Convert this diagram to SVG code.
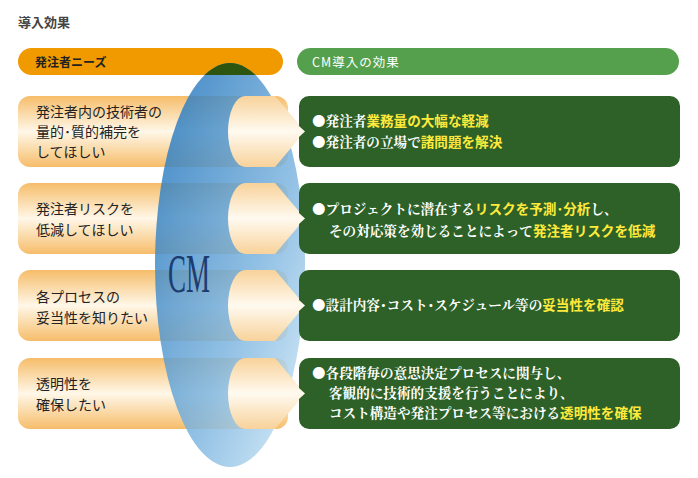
<svg xmlns="http://www.w3.org/2000/svg" width="698" height="478" viewBox="0 0 698 478">
<defs>
<linearGradient id="lg" x1="0" y1="0" x2="0" y2="1"><stop offset="0" stop-color="#f6bd6a"/><stop offset="0.5" stop-color="#fff7e8"/><stop offset="1" stop-color="#f6bd6a"/></linearGradient>
<linearGradient id="cap" x1="0" y1="0" x2="0" y2="1"><stop offset="0" stop-color="#f8d29a"/><stop offset="0.5" stop-color="#fffaf0"/><stop offset="1" stop-color="#f8d29a"/></linearGradient>
<linearGradient id="bl" x1="0" y1="0" x2="1" y2="1"><stop offset="0" stop-color="#1a6fb8"/><stop offset="0.6" stop-color="#7fb6e0"/><stop offset="1" stop-color="#d5ecf8"/></linearGradient>
<clipPath id="hc"><rect x="18" y="48" width="265" height="27" rx="13.5"/></clipPath>
<style>
.t{font-family:"Noto Sans CJK JP","Liberation Sans",sans-serif;font-size:14px;fill:#222}
.w{font-family:"Noto Serif CJK JP","Noto Sans CJK JP",serif;font-size:13.6px;fill:#fff;font-weight:bold}
.y{fill:#ffea3c;font-family:"Noto Sans CJK JP",sans-serif;font-weight:bold}
.g{fill:#2d6127}
</style>
</defs>
<text x="18" y="27" class="t" style="font-size:13px;font-weight:bold;fill:#444">導入効果</text>
<rect x="18" y="48" width="265" height="27" rx="13.5" fill="#f09a00"/>
<text x="35" y="67" class="t" style="font-size:12px;font-weight:bold">発注者ニーズ</text>
<rect x="297" y="48" width="382" height="27" rx="13.5" fill="#55a04c"/>
<text x="312" y="67" class="t" style="font-size:12.5px;fill:#fff;letter-spacing:1px">CM導入の効果</text>
<g id="left">
<rect x="18" y="96" width="270" height="71" rx="12" fill="url(#lg)"/>
<rect x="18" y="183" width="270" height="71" rx="12" fill="url(#lg)"/>
<rect x="18" y="270" width="270" height="71" rx="12" fill="url(#lg)"/>
<rect x="18" y="358" width="270" height="71" rx="12" fill="url(#lg)"/>
</g>
<ellipse id="cm" cx="230" cy="265" rx="75" ry="202" fill="url(#bl)" opacity="0.85"/>
<ellipse cx="230" cy="265" rx="75" ry="202" fill="#2d5510" clip-path="url(#hc)"/>
<text x="168" y="292" style="font-family:'Liberation Serif',serif;font-size:54px;fill:#1d3c70" transform="translate(168 0) scale(0.5 1) translate(-168 0)">CM</text>
<g id="caps">
<path d="M245,96 L275,96 L305,131.5 L275,167 L245,167 A17,35.5 0 0 1 245,96 Z" fill="url(#cap)"/>
<path d="M245,183 L275,183 L305,218.5 L275,254 L245,254 A17,35.5 0 0 1 245,183 Z" fill="url(#cap)"/>
<path d="M245,270 L275,270 L305,305.5 L275,341 L245,341 A17,35.5 0 0 1 245,270 Z" fill="url(#cap)"/>
<path d="M245,358 L275,358 L305,393.5 L275,429 L245,429 A17,35.5 0 0 1 245,358 Z" fill="url(#cap)"/>
</g>
<g id="right">
<path class="g" d="M309,96 H670 A10,10 0 0 1 680,106 V157 A10,10 0 0 1 670,167 H309 A10,10 0 0 1 299,157 V137 L305,131.5 L299,126 V106 A10,10 0 0 1 309,96 Z"/>
<path class="g" d="M309,183 H670 A10,10 0 0 1 680,193 V244 A10,10 0 0 1 670,254 H309 A10,10 0 0 1 299,244 V224 L305,218.5 L299,213 V193 A10,10 0 0 1 309,183 Z"/>
<path class="g" d="M309,270 H670 A10,10 0 0 1 680,280 V331 A10,10 0 0 1 670,341 H309 A10,10 0 0 1 299,331 V311 L305,305.5 L299,300 V280 A10,10 0 0 1 309,270 Z"/>
<path class="g" d="M309,358 H670 A10,10 0 0 1 680,368 V419 A10,10 0 0 1 670,429 H309 A10,10 0 0 1 299,419 V399 L305,393.5 L299,388 V368 A10,10 0 0 1 309,358 Z"/>
</g>
<g id="ltext" class="t">
<text x="36" y="117">発注者内の技術者の</text>
<text x="36" y="137">量的･質的補完を</text>
<text x="36" y="157">してほしい</text>
<text x="36" y="214">発注者リスクを</text>
<text x="36" y="235">低減してほしい</text>
<text x="36" y="302">各プロセスの</text>
<text x="36" y="323">妥当性を知りたい</text>
<text x="36" y="389">透明性を</text>
<text x="36" y="410">確保したい</text>
</g>
<g id="rtext" class="w">
<text x="312" y="126">●発注者<tspan class="y">業務量の大幅な軽減</tspan></text>
<text x="312" y="147">●発注者の立場で<tspan class="y">諸問題を解決</tspan></text>
<text x="312" y="214">●プロジェクトに潜在する<tspan class="y">リスクを予測･分析</tspan>し、</text>
<text x="329" y="236">その対応策を効じることによって<tspan class="y">発注者リスクを低減</tspan></text>
<text x="312" y="310">●設計内容･コスト･スケジュール等の<tspan class="y">妥当性を確認</tspan></text>
<text x="312" y="378">●各段階毎の意思決定プロセスに関与し、</text>
<text x="329" y="398">客観的に技術的支援を行うことにより、</text>
<text x="329" y="418">コスト構造や発注プロセス等における<tspan class="y">透明性を確保</tspan></text>
</g>
</svg>
